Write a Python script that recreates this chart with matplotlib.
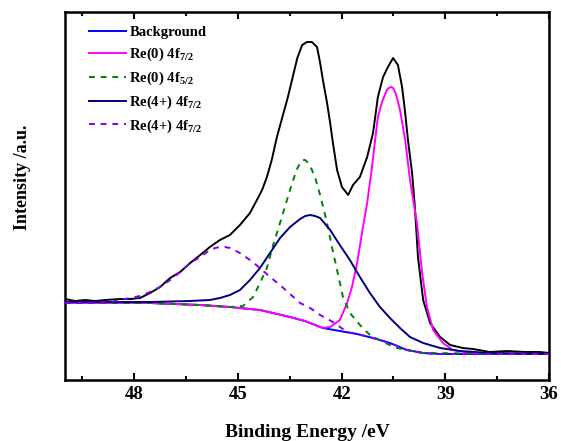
import numpy as np
import matplotlib.pyplot as plt
from matplotlib.ticker import MultipleLocator

# Re 4f XPS spectrum (binding energy in eV, intensity a.u.)
raw_energy = [50.00, 49.71, 49.42, 49.13, 48.84, 48.41, 48.12, 47.83, 47.54, 47.25,
              46.96, 46.67, 46.38, 46.09, 45.81, 45.52, 45.23, 44.94, 44.65, 44.45,
              44.30, 44.16, 44.02, 43.87, 43.72, 43.56, 43.42, 43.28, 43.14, 43.00,
              42.86, 42.71, 42.62, 42.54, 42.42, 42.33, 42.25, 42.13, 41.99, 41.81,
              41.67, 41.47, 41.26, 41.09, 40.95, 40.80, 40.66, 40.51, 40.37, 40.25,
              40.16, 40.08, 39.96, 39.88, 39.79, 39.64, 39.44, 39.15, 38.86, 38.49,
              38.20, 37.71, 37.21, 36.69, 36.26, 36.00]
raw_counts = [81, 79, 80, 79, 80, 81, 81, 82, 87, 93,
              102, 108, 117, 125, 133, 140, 145, 155, 167, 180,
              190, 203, 220, 243, 262, 282, 302, 322, 335, 338,
              338, 333, 317, 300, 277, 257, 237, 210, 193, 185,
              195, 203, 223, 247, 283, 303, 313, 322, 315, 293,
              267, 240, 207, 173, 123, 80, 57, 43, 35, 32,
              31, 28, 29, 28, 28, 27]

bg_energy = [50.00, 47.54, 46.09, 45.23, 44.36, 43.49, 43.06, 42.54, 42.05, 41.55,
             41.09, 40.60, 40.11, 39.64, 39.15, 36.00]
bg_counts = [77, 77, 75, 73, 70, 63, 59, 52, 49, 46,
             42, 37, 30, 27, 26, 26]

re0_72_energy = [50.00, 47.54, 46.09, 45.23, 44.36, 43.49, 43.06, 42.54, 42.33, 42.05,
                 41.84, 41.70, 41.55, 41.41, 41.26, 41.12, 41.03, 40.95, 40.83, 40.75,
                 40.69, 40.63, 40.57, 40.51, 40.45, 40.38, 40.31, 40.16, 40.02, 39.96,
                 39.82, 39.67, 39.53, 39.35, 39.07, 38.78, 38.28, 36.00]
re0_72_counts = [77, 77, 75, 73, 70, 63, 59, 52, 53, 60,
                 77, 93, 117, 147, 177, 213, 240, 263, 278, 285,
                 290, 292, 293, 292, 288, 280, 270, 240, 200, 187,
                 157, 107, 73, 50, 37, 30, 27, 26]

re0_52_energy = [50.00, 47.54, 46.09, 45.23, 44.85, 44.56, 44.36, 44.16, 43.98, 43.78,
                 43.58, 43.43, 43.29, 43.20, 43.12, 43.05, 42.97, 42.87, 42.77, 42.62,
                 42.42, 42.28, 42.13, 41.96, 41.76, 41.47, 41.18, 40.80, 40.40, 39.64,
                 36.00]
re0_52_counts = [77, 77, 75, 73, 74, 83, 97, 112, 135, 157,
                 180, 197, 211, 217, 220, 220, 217, 211, 203, 185,
                 157, 133, 110, 83, 67, 55, 45, 38, 32, 27,
                 26]

re4_a_energy = [50.00, 47.54, 46.40, 45.81, 45.52, 45.23, 44.94, 44.65, 44.36, 44.07,
                43.78, 43.49, 43.20, 43.05, 42.91, 42.77, 42.62, 42.33, 42.05, 41.76,
                41.47, 41.18, 40.89, 40.60, 40.31, 40.02, 39.64, 39.15, 38.57, 37.71,
                36.00]
re4_a_counts = [78, 78, 79, 80, 82, 85, 90, 100, 112, 127,
                142, 153, 161, 164, 165, 164, 162, 150, 135, 120,
                103, 87, 73, 62, 52, 43, 37, 32, 29, 27,
                26]

re4_b_energy = [50.00, 49.13, 48.70, 48.41, 48.12, 47.83, 47.54, 47.25, 46.96, 46.67,
                46.38, 46.09, 45.81, 45.66, 45.52, 45.37, 45.23, 44.94, 44.65, 44.36,
                44.07, 43.78, 43.49, 43.20, 42.91, 42.62, 42.25, 41.84, 41.55, 41.09,
                40.60, 40.11, 39.64, 39.15, 36.00]
re4_b_counts = [77, 77, 78, 80, 82, 84, 88, 93, 100, 108,
                117, 123, 130, 132, 133, 133, 132, 127, 120, 112,
                103, 95, 86, 77, 72, 65, 58, 48, 46, 42,
                37, 30, 27, 26, 26]

plt.rcParams['font.family'] = 'Liberation Serif'
plt.rcParams['font.weight'] = 'bold'
plt.rcParams['mathtext.fontset'] = 'custom'
plt.rcParams['mathtext.rm'] = 'Liberation Serif:bold'
plt.rcParams['mathtext.bf'] = 'Liberation Serif:bold'
plt.rcParams['mathtext.it'] = 'Liberation Serif:bold'

fig = plt.figure(figsize=(5.61, 4.41), dpi=100)
ax = fig.add_axes([0.1159, 0.1383, 0.8627, 0.8345])

ax.plot(raw_energy, raw_counts, color='black', lw=1.4, zorder=3)
ax.plot(bg_energy, bg_counts, color='#0000ff', lw=1.4, label='Background', zorder=4)
ax.plot(re0_72_energy, re0_72_counts, color='#ff00ff', lw=1.4,
        label='Re(0) 4f$_{7/2}$', zorder=5)
ax.plot(re0_52_energy, re0_52_counts, color='#008000', lw=1.4, ls=(0, (3, 3)),
        label='Re(0) 4f$_{5/2}$', zorder=6)
ax.plot(re4_a_energy, re4_a_counts, color='#000080', lw=1.4,
        label='Re(4+) 4f$_{7/2}$', zorder=7)
ax.plot(re4_b_energy, re4_b_counts, color='#8000ff', lw=1.4, ls=(0, (3, 3)),
        label='Re(4+) 4f$_{7/2}$', zorder=8)

ax.set_xlim(50, 36)
ax.set_ylim(0, 368)
ax.xaxis.set_major_locator(MultipleLocator(3))
ax.xaxis.set_minor_locator(MultipleLocator(1.5))
ax.set_yticks([])
ax.tick_params(axis='x', which='both', direction='in', top=True, labelsize=13.5, pad=4)
ax.tick_params(axis='x', which='major', length=5, width=1.5)
ax.tick_params(axis='x', which='minor', length=3, width=1.5)
for s in ax.spines.values():
    s.set_linewidth(1.8)

ax.set_xlabel('Binding Energy /eV', fontsize=14, fontweight='bold')
ax.xaxis.set_label_coords(0.5, -0.12)
ax.set_ylabel('Intensity /a.u.', fontsize=13, fontweight='bold')
ax.yaxis.set_label_coords(-0.07, 0.55)

ax.legend(loc='upper left', frameon=False, fontsize=10.5, handlelength=2.6,
          handletextpad=0.2, labelspacing=0.45, borderaxespad=0.55,
          bbox_to_anchor=(0.02, 1.0))

fig.savefig('out.png', dpi=100)
